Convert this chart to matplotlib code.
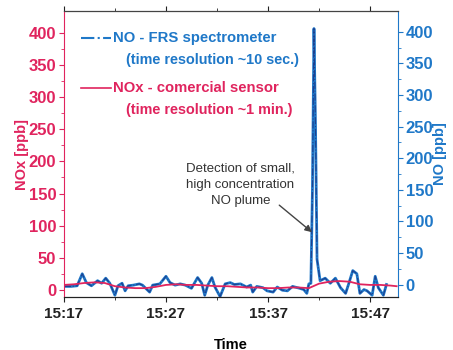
import pandas as pd
import matplotlib
matplotlib.use("Agg")
import matplotlib.pyplot as plt
import matplotlib.dates as mdates

plt.rcParams['font.family'] = ['Liberation Sans', 'DejaVu Sans']

# NO - FRS spectrometer (minutes after 15:17, ppb)
no_minutes = [0.0, 0.7, 1.3, 1.8, 2.2, 2.7, 3.3, 3.7, 4.1, 4.5, 5.0, 5.3, 5.7, 6.0,
              6.3, 6.8, 7.4, 7.7, 8.4, 8.7, 9.4, 10.0, 10.4, 10.9, 11.4, 11.9, 12.5,
              13.1, 13.5, 13.8, 14.1, 14.5, 14.8, 15.3, 15.8, 16.3, 16.7, 17.3, 17.9,
              18.3, 18.5, 18.9, 19.5, 19.9, 20.5, 20.9, 21.4, 21.9, 22.4, 23.1, 23.5,
              23.8, 24.0, 24.2, 24.35, 24.5, 24.65, 24.8, 25.1, 25.6, 26.1, 26.6,
              27.1, 27.6, 27.9, 28.3, 28.7, 29.0, 29.4, 29.7, 30.2, 30.5, 30.8, 31.3,
              31.6]
no_values = [-3, -3, -2, 17, 3, -2, 6, 2, 10, 2, -17, -2, 2, -10,
             -2, -1, 1, -1, -12, -1, 1, 13, 3, -1, 1, -1, -6,
             11, 2, -17, -1, 11, -4, -19, 1, 3, 0, 1, -4,
             -1, -12, -3, -5, -10, -12, -4, -9, -10, -3, -6, -8,
             -14, 1, 2, 150, 405, 250, 40, 6, 10, 2, 10,
             -5, -14, 1, 22, 17, -14, -8, -10, -17, 13, -5, -17,
             0]

# NOx - commercial sensor (minutes after 15:17, ppb)
nox_minutes = [0, 1, 2, 3, 4, 5, 6, 7, 8, 9, 10, 11, 12, 13, 14, 15, 16, 17, 18,
               19, 20, 21, 22, 23, 24, 25, 26, 27, 28, 29, 30, 31, 32, 32.6]
nox_values = [8, 9, 11, 12, 11, 6, 4, 3, 3, 5, 8, 9, 8, 8, 7, 6, 6, 5, 4,
              4, 3, 3, 4, 4, 3, 10, 13, 14, 13, 9, 8, 8, 7, 6]

base = pd.Timestamp('2015-01-01 15:17')
no_time = base + pd.to_timedelta(no_minutes, unit='min')
nox_time = base + pd.to_timedelta(nox_minutes, unit='min')

pink = '#e0245e'
blue = '#1f78c8'
navy = '#1d3f8f'

fig = plt.figure(figsize=(4.53, 3.5), dpi=100)
ax = fig.add_axes([0.141, 0.151, 0.738, 0.818])
ax2 = ax.twinx()

ax.plot(nox_time, nox_values, color=pink, lw=1.3, zorder=3)
ax2.plot(no_time, no_values, color=blue, lw=2.0)
ax2.plot(no_time, no_values, color=navy, lw=0.8, ls='-.')
ax.set_zorder(ax2.get_zorder() + 1)
ax.patch.set_visible(False)

ax.set_xlim(base, base + pd.Timedelta(minutes=32.75))
ax.set_ylim(-11, 434)
ax2.set_ylim(-20, 433)
ax.set_yticks(range(0, 401, 50))
ax2.set_yticks(range(0, 401, 50))
ax.set_yticks(range(25, 401, 50), minor=True)
ax2.set_yticks(range(25, 401, 50), minor=True)

ax.xaxis.set_major_locator(mdates.MinuteLocator(byminute=[17, 27, 37, 47]))
ax.xaxis.set_minor_locator(mdates.MinuteLocator(byminute=[22, 32, 42]))
ax.xaxis.set_major_formatter(mdates.DateFormatter('%H:%M'))

ax.tick_params(axis='x', which='both', top=True, labelsize=11, colors='#222222')
ax.tick_params(axis='y', which='both', colors=pink, labelsize=12, pad=2)
ax2.tick_params(axis='y', which='both', colors=blue, labelsize=12, pad=2)
for lab in ax.get_xticklabels() + ax.get_yticklabels() + ax2.get_yticklabels():
    lab.set_fontweight('bold')

ax.spines['left'].set_color(pink)
ax2.spines['left'].set_visible(False)
ax2.spines['right'].set_color(blue)
ax.spines['right'].set_visible(False)
ax.spines['top'].set_color('#444444')
ax.spines['bottom'].set_color('#222222')

ax.set_xlabel('Time', fontweight='bold', fontsize=10.5, labelpad=12)
ax.set_ylabel('NOx [ppb]', color=pink, fontweight='bold', fontsize=10.5, labelpad=0)
ax2.set_ylabel('NO [ppb]', color=blue, fontweight='bold', fontsize=10.5, labelpad=0)

# legend drawn manually to match layout
ax.plot([0.05, 0.14], [0.905, 0.905], transform=ax.transAxes, color=blue, lw=1.5, ls='-.')
ax.text(0.148, 0.905, 'NO - FRS spectrometer', transform=ax.transAxes, color=blue,
        fontweight='bold', fontsize=10.7, va='center')
ax.text(0.185, 0.83, '(time resolution ~10 sec.)', transform=ax.transAxes, color=blue,
        fontweight='bold', fontsize=10.4, va='center')
ax.plot([0.05, 0.14], [0.73, 0.73], transform=ax.transAxes, color=pink, lw=1.2)
ax.text(0.148, 0.73, 'NOx - comercial sensor', transform=ax.transAxes, color=pink,
        fontweight='bold', fontsize=10.7, va='center')
ax.text(0.185, 0.655, '(time resolution ~1 min.)', transform=ax.transAxes, color=pink,
        fontweight='bold', fontsize=10.4, va='center')

ax.text(base + pd.Timedelta(minutes=17.3), 164,
        'Detection of small,\nhigh concentration\nNO plume',
        ha='center', va='center', fontsize=9.5, color='#333333', linespacing=1.45)
ax.annotate('', xy=(base + pd.Timedelta(minutes=24.3), 90),
            xytext=(base + pd.Timedelta(minutes=21.1), 132),
            arrowprops=dict(arrowstyle='-|>', color='#444444', lw=1.0,
                            shrinkA=0, shrinkB=0))

fig.savefig('out.png', dpi=100)
